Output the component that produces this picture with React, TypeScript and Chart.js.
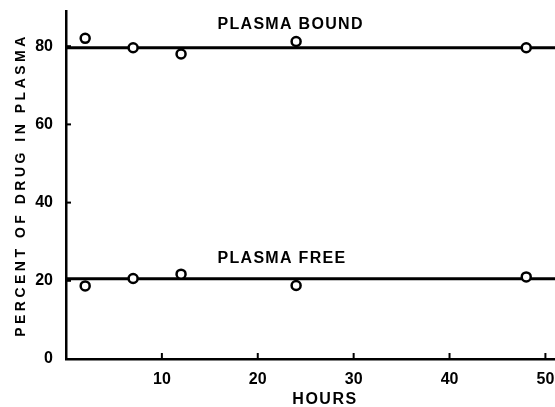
import React, { useEffect, useRef } from 'react';
import { Chart, registerables } from 'chart.js';

Chart.register(...registerables);

// ---- data ----
const hours = [2, 7, 12, 24, 48];
const boundValues = [82.0, 79.6, 78.0, 81.2, 79.6];
const freeValues = [18.7, 20.6, 21.7, 18.8, 21.0];
const boundFitLevel = 79.6;
const freeFitLevel = 20.5;
const fitRange = [0, 51];
const xTickValues = [10, 20, 30, 40, 50];
const yTickValues = [0, 20, 40, 60, 80];
const seriesLabels = ['PLASMA BOUND', 'PLASMA FREE'];
const labelAnchorX = [15.8, 15.8];
const labelAnchorY = [85.4, 25.7];
const xTitle = 'HOURS';
const yTitle = 'PERCENT OF DRUG IN PLASMA';

const FAMILY = '"Liberation Sans", Arial, Helvetica, sans-serif';

const decorPlugin = {
  id: 'decor',
  afterDraw(chart: any) {
    const { ctx, chartArea, scales } = chart;
    const xs = scales.x;
    const ys = scales.y;
    ctx.save();
    ctx.strokeStyle = '#000';
    ctx.lineWidth = 2;
    xTickValues.forEach((v) => {
      const px = xs.getPixelForValue(v);
      ctx.beginPath();
      ctx.moveTo(px, chartArea.bottom);
      ctx.lineTo(px, chartArea.bottom - 6);
      ctx.stroke();
    });
    yTickValues.forEach((v) => {
      if (v === 0) return;
      const py = ys.getPixelForValue(v);
      ctx.beginPath();
      ctx.moveTo(chartArea.left, py);
      ctx.lineTo(chartArea.left + 5, py);
      ctx.stroke();
    });

    ctx.fillStyle = '#000';
    ctx.textBaseline = 'middle';
    ctx.font = `bold 16px ${FAMILY}`;
    (ctx as any).letterSpacing = '1.3px';
    ctx.textAlign = 'left';
    seriesLabels.forEach((t, i) => {
      ctx.fillText(t, xs.getPixelForValue(labelAnchorX[i]), ys.getPixelForValue(labelAnchorY[i]));
    });

    ctx.textAlign = 'center';
    (ctx as any).letterSpacing = '1.5px';
    ctx.fillText(xTitle, 325, 400);

    ctx.font = `bold 14px ${FAMILY}`;
    (ctx as any).letterSpacing = '3.5px';
    ctx.translate(21, 185);
    ctx.rotate(-Math.PI / 2);
    ctx.fillText(yTitle, 0, 0);
    ctx.restore();
  },
};

export default function App() {
  const ref = useRef<HTMLCanvasElement | null>(null);

  useEffect(() => {
    if (!ref.current) return;
    const pointStyle = {
      showLine: false,
      pointRadius: 4.5,
      pointBorderWidth: 2.5,
      pointBorderColor: '#000',
      pointBackgroundColor: '#fff',
      pointHoverRadius: 4.5,
    };
    const lineStyle = {
      showLine: true,
      borderColor: '#000',
      borderWidth: 3,
      pointRadius: 0,
      pointHoverRadius: 0,
    };
    const chart = new Chart(ref.current, {
      type: 'scatter',
      data: {
        datasets: [
          { label: seriesLabels[0], data: hours.map((h, i) => ({ x: h, y: boundValues[i] })), ...pointStyle },
          { label: seriesLabels[1], data: hours.map((h, i) => ({ x: h, y: freeValues[i] })), ...pointStyle },
          { label: 'bound fit', data: fitRange.map((x) => ({ x, y: boundFitLevel })), ...lineStyle },
          { label: 'free fit', data: fitRange.map((x) => ({ x, y: freeFitLevel })), ...lineStyle },
        ],
      },
      options: {
        responsive: false,
        animation: false,
        devicePixelRatio: 1,
        layout: { autoPadding: false, padding: { top: 11, right: 0, left: 0, bottom: 0 } },
        plugins: {
          legend: { display: false },
          tooltip: { enabled: false },
          title: { display: false },
        },
        scales: {
          x: {
            type: 'linear',
            min: 0,
            max: 51,
            grid: { display: false, drawTicks: false },
            border: { display: true, color: '#000', width: 2.5 },
            ticks: {
              color: '#000',
              font: { size: 16, weight: 'bold', family: FAMILY },
              padding: 11,
              autoSkip: false,
              maxRotation: 0,
            },
            afterBuildTicks: (s: any) => {
              s.ticks = xTickValues.map((v) => ({ value: v }));
            },
            afterFit: (s: any) => {
              s.height = 48;
              s.paddingLeft = 0;
              s.paddingRight = 0;
              s.paddingTop = 0;
              s.paddingBottom = 0;
            },
          },
          y: {
            type: 'linear',
            min: 0,
            max: 89,
            grid: { display: false, drawTicks: false },
            border: { display: true, color: '#000', width: 2.5 },
            ticks: {
              color: '#000',
              font: { size: 16, weight: 'bold', family: FAMILY },
              padding: 13,
              autoSkip: false,
            },
            afterBuildTicks: (s: any) => {
              s.ticks = yTickValues.map((v) => ({ value: v }));
            },
            afterFit: (s: any) => {
              s.width = 66;
              s.paddingLeft = 0;
              s.paddingRight = 0;
              s.paddingTop = 0;
              s.paddingBottom = 0;
            },
          },
        },
      } as any,
      plugins: [decorPlugin],
    });
    return () => chart.destroy();
  }, []);

  return (
    <div style={{ position: 'fixed', left: 0, top: 0, width: 555, height: 407, background: '#fff' }}>
      <canvas ref={ref} width={555} height={407} style={{ display: 'block', width: 555, height: 407 }} />
    </div>
  );
}
